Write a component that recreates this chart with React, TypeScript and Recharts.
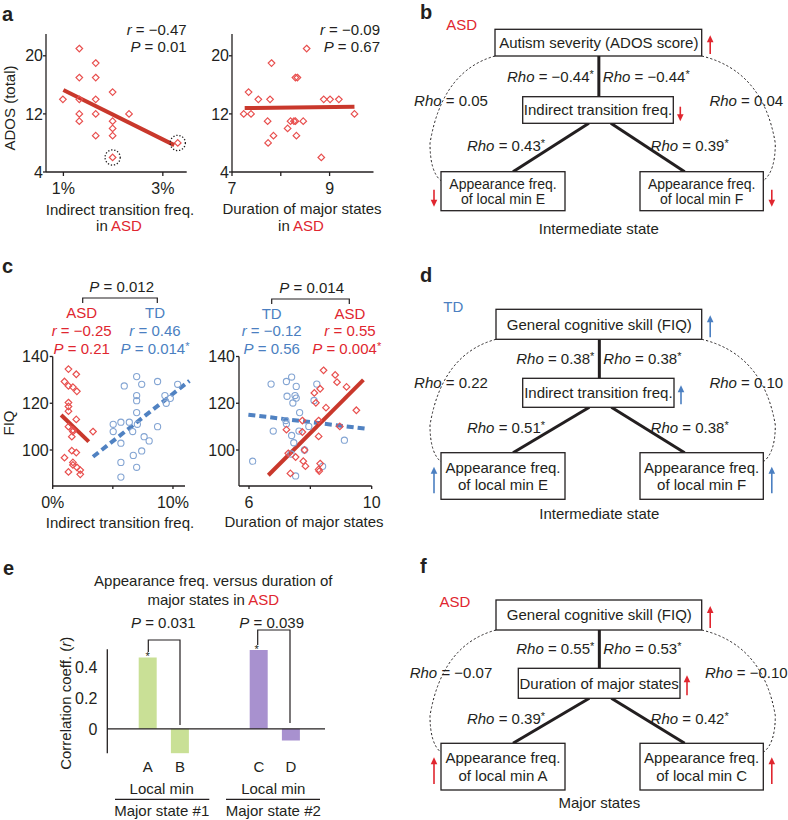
import React from 'react';
import { ScatterChart, Scatter, XAxis, YAxis, ReferenceLine, BarChart, Bar } from 'recharts';

const FONT = '"Liberation Sans", Arial, Helvetica, sans-serif';
const INK = '#231f20';
const RED_PT = '#e8504f';
const RED_LINE = '#c9382c';
const RED_TXT = '#e0262f';
const BLUE_PT = '#84a5d3';
const BLUE_LINE = '#5082c2';
const BLUE_TXT = '#4b7fc1';
const GREEN_BAR = '#c9e096';
const PURPLE_BAR = '#a891cf';

// ---------- data ----------
// panel a (left): indirect transition freq (%) vs ADOS
const adosIndirectASD: number[][] = [
  [1.32, 21], [1.65, 19], [1.32, 17], [1.65, 17], [1.99, 15], [0.99, 14], [1.32, 14], [1.65, 14],
  [1.32, 12], [1.65, 12], [2.32, 12], [1.32, 11], [1.99, 11], [1.99, 10], [1.65, 9], [1.99, 9],
  [1.99, 6], [3.3, 8],
];
const adosIndirectOutliers: number[][] = [[1.99, 6], [3.3, 8]];
const adosIndirectFit: number[][] = [[1.0, 15.3], [3.23, 7.7]];
// panel a (right): duration of major states vs ADOS
const adosDurationASD: number[][] = [
  [8.53, 21], [7.81, 19], [8.3, 17], [8.34, 17], [7.34, 15], [7.54, 14], [7.78, 14], [8.88, 14],
  [9.01, 14], [9.19, 14], [7.24, 12], [7.39, 12], [9.51, 12], [7.73, 11], [8.2, 11], [8.27, 11],
  [8.3, 11], [8.46, 11], [8.14, 10], [7.85, 9], [8.32, 9], [7.74, 8], [8.83, 6],
];
const adosDurationFit: number[][] = [[7.26, 12.8], [9.51, 13.0]];
// panel c (left): indirect transition freq (%) vs FIQ
const fiqIndirectASD: number[][] = [
  [1.31, 134.6], [1.96, 132.4], [0.98, 129.3], [1.31, 127.4], [1.68, 126.9], [2.01, 125.1], [1.31, 120.3],
  [1.31, 118.6], [1.31, 116.6], [1.96, 113.1], [1.31, 110], [1.68, 108.6], [1.68, 107.9], [1.59, 105.7],
  [3.35, 107.9], [1.59, 99.7], [1.96, 98.9], [0.98, 96.7], [1.68, 94.7], [1.68, 93.6], [2.01, 92.6],
  [2.29, 91.4], [1.31, 90.6], [2.29, 89.6],
];
const fiqIndirectTD: number[][] = [
  [6.98, 131.4], [5.95, 127.4], [7.4, 128.1], [8.72, 129.3], [10.39, 128.1], [6.98, 123.3], [6.98, 121.1],
  [9.78, 122.1], [9.33, 123.3], [9.44, 120.0], [6.98, 116.0], [5.03, 111.0], [5.03, 107.9], [5.67, 111.9],
  [6.37, 111.9], [6.65, 107.9], [7.04, 111.0], [7.6, 105.7], [8.02, 103.9], [8.72, 110.0], [5.67, 102.9],
  [7.4, 99.6], [6.7, 97.7], [5.67, 94.7], [6.98, 92.6], [5.67, 88.4],
];
const fiqIndirectFitASD: number[][] = [[0.7, 115], [3.0, 103.6]];
const fiqIndirectFitTD: number[][] = [[3.35, 97.1], [11.37, 129.6]];
// panel c (right): duration of major states vs FIQ
const fiqDurationTD: number[][] = [
  [6.12, 95.2], [6.72, 128.2], [7.22, 129.3], [7.39, 131.2], [7.54, 127.2], [7.24, 123.0], [7.5, 123.3],
  [7.54, 122.2], [7.43, 120.1], [8.21, 128.2], [8.12, 121.2], [7.65, 116.0], [7.2, 112.6], [7.22, 111.2],
  [6.79, 108.1], [7.63, 108.1], [7.95, 110.1], [7.39, 106.2], [7.46, 103.1], [7.81, 100.0], [7.37, 98.3],
  [8.4, 93.0], [7.52, 88.9], [9.11, 104.2],
];
const fiqDurationASD: number[][] = [
  [8.43, 134.1], [8.81, 132.1], [8.87, 129.0], [9.18, 127.0], [8.32, 126.2], [8.13, 124.4], [8.18, 120.2],
  [8.51, 118.1], [9.5, 117.0], [7.74, 112.6], [8.27, 112.6], [7.22, 108.7], [7.74, 107.7], [8.27, 105.8],
  [8.96, 110.1], [7.81, 100.0], [7.52, 97.0], [7.77, 95.2], [7.84, 93.1], [8.32, 94.2], [8.27, 91.7],
  [8.29, 91.0], [7.35, 90.0], [7.28, 98.6],
];
const fiqDurationFitTD: number[][] = [[5.98, 115.1], [9.81, 109.1]];
const fiqDurationFitASD: number[][] = [[6.63, 89.2], [9.73, 130.0]];
// panel e: correlation coefficients
const state1Mins = ['A', 'B'];
const state1R = [0.467, -0.163];
const state2Mins = ['C', 'D'];
const state2R = [0.515, -0.076];

const pts = (a: number[][]) => a.map(([x, y]) => ({ x, y }));
const seg = (a: number[][]) => a.map(([x, y]) => ({ x, y })) as any;

// ---------- shapes ----------
const Diamond = (p: any) => {
  const { cx, cy } = p;
  const r = 3.3;
  return <path d={`M${cx},${cy - r}L${cx + r},${cy}L${cx},${cy + r}L${cx - r},${cy}Z`} fill="none" stroke={RED_PT} strokeWidth={1.2} />;
};
const Ring = (p: any) => <circle cx={p.cx} cy={p.cy} r={3.1} fill="none" stroke={BLUE_PT} strokeWidth={1.1} />;
const DotCircle = (p: any) => <circle cx={p.cx} cy={p.cy} r={7.6} fill="none" stroke={INK} strokeWidth={1.3} strokeDasharray="1.3 1.8" />;

const axisLine = { stroke: INK, strokeWidth: 1.3 };
const tickStyle = { fill: INK, fontSize: 16, fontFamily: FONT };

const abs = (left: number, top: number): React.CSSProperties => ({ position: 'absolute', left, top });

// ---------- overlay helpers ----------
const T = ({ x, y, children, anchor = 'middle', size = 15, fill = INK, weight, rotate }: any) => (
  <text
    x={x}
    y={y}
    dy={size * 0.35}
    textAnchor={anchor}
    fontSize={size}
    fill={fill}
    fontWeight={weight}
    transform={rotate ? `rotate(${rotate} ${x} ${y})` : undefined}
  >
    {children}
  </text>
);
const I = ({ children }: any) => <tspan fontStyle="italic">{children}</tspan>;
const Star = () => <tspan fontSize={11} dy={-4}>*</tspan>;

const Arrow = ({ x, y0, y1, color }: any) => {
  const dir = y1 < y0 ? -1 : 1;
  return (
    <g>
      <line x1={x} y1={y0} x2={x} y2={y1 - dir * 5} stroke={color} strokeWidth={1.6} />
      <path d={`M${x - 3.3},${y1 - dir * 7}L${x + 3.3},${y1 - dir * 7}L${x},${y1}Z`} fill={color} />
    </g>
  );
};

type Box = [number, number, number, number];
const Rect = ({ b }: { b: Box }) => (
  <rect x={b[0]} y={b[1]} width={b[2] - b[0]} height={b[3] - b[1]} fill="white" stroke={INK} strokeWidth={1.3} />
);

const Diagram = ({ g }: any) => {
  const top: Box = g.top, mid: Box = g.mid, bl: Box = g.bl, br: Box = g.br;
  const cx = (top[0] + top[2]) / 2 + 0.5;
  const y0 = top[3];
  const y1 = bl[1] + 9;
  const H = y1 - y0;
  const bx = bl[0] - 11;
  const bxr = br[2] + 12;
  const left = `M${top[0]},${y0} Q${bx + 12},${y0 + 0.12 * H} ${bx},${y0 + 0.7 * H} Q${bx},${y0 + 0.93 * H} ${bl[0]},${y1}`;
  const right = `M${top[2]},${y0} Q${bxr - 12},${y0 + 0.12 * H} ${bxr},${y0 + 0.7 * H} Q${bxr},${y0 + 0.93 * H} ${br[2]},${y1}`;
  const midY = (top[3] + mid[1]) / 2;
  const bh = bl[3] - bl[1];
  const blc = (bl[0] + bl[2]) / 2;
  const brc = (br[0] + br[2]) / 2;
  const sideY = mid[1] + 4;
  const diagY = (mid[3] + bl[1]) / 2 - 2;
  const bs = g.boxSize;
  const l1 = bl[1] + bh / 2 - g.lineGap / 2;
  const l2 = bl[1] + bh / 2 + g.lineGap / 2;
  return (
    <g>
      <path d={left} fill="none" stroke={INK} strokeWidth={1} strokeDasharray="2.2 2.2" />
      <path d={right} fill="none" stroke={INK} strokeWidth={1} strokeDasharray="2.2 2.2" />
      <line x1={cx} y1={top[3]} x2={cx} y2={mid[1]} stroke={INK} strokeWidth={3} />
      <line x1={cx - 10} y1={mid[3]} x2={blc + 10} y2={bl[1]} stroke={INK} strokeWidth={3} />
      <line x1={cx + 12} y1={mid[3]} x2={brc - 17} y2={br[1]} stroke={INK} strokeWidth={3} />
      <Rect b={top} />
      <Rect b={mid} />
      <Rect b={bl} />
      <Rect b={br} />
      <T x={g.groupPos[0]} y={g.groupPos[1]} fill={g.color}>{g.group}</T>
      <T x={cx} y={(top[1] + top[3]) / 2}>{g.topText}</T>
      <T x={(mid[0] + mid[2]) / 2} y={(mid[1] + mid[3]) / 2}>{g.midText}</T>
      <T x={blc} y={l1} size={bs}>Appearance freq.</T>
      <T x={blc} y={l2} size={bs}>{g.blText}</T>
      <T x={brc} y={l1} size={bs}>Appearance freq.</T>
      <T x={brc} y={l2} size={bs}>{g.brText}</T>
      <T x={cx} y={bl[3] + g.capDy}>{g.caption}</T>
      <T x={cx - 5} y={midY} anchor="end"><I>Rho</I> = {g.rhoCL}<Star /></T>
      <T x={cx + 4} y={midY} anchor="start"><I>Rho</I> = {g.rhoCR}<Star /></T>
      <T x={bl[0] + 10} y={sideY}><I>Rho</I> = {g.rhoSL}</T>
      <T x={br[2] - 17} y={sideY}><I>Rho</I> = {g.rhoSR}</T>
      <T x={blc + 3} y={diagY}><I>Rho</I> = {g.rhoDL}<Star /></T>
      <T x={brc - 12} y={diagY}><I>Rho</I> = {g.rhoDR}<Star /></T>
      <Arrow x={top[2] + 8.5} y0={g.dirTop < 0 ? top[3] - 2 : top[1] + 6} y1={g.dirTop < 0 ? top[1] + 6 : top[3] - 2} color={g.color} />
      <Arrow x={mid[2] + 7} y0={g.dirMid < 0 ? mid[3] - 3 : mid[1] + 10} y1={g.dirMid < 0 ? mid[1] + 7 : mid[3] - 2} color={g.color} />
      <Arrow x={bl[0] - 7} y0={g.dirBot < 0 ? bl[3] - 6 : bl[1] + 18} y1={g.dirBot < 0 ? bl[1] + 14 : bl[3] - 4} color={g.color} />
      <Arrow x={br[2] + 8.5} y0={g.dirBot < 0 ? br[3] - 6 : br[1] + 18} y1={g.dirBot < 0 ? br[1] + 14 : br[3] - 4} color={g.color} />
    </g>
  );
};

const diagB = {
  top: [495, 29.3, 701.7, 56], mid: [522.7, 96.7, 673.3, 123.3], bl: [441, 171.7, 565, 210.7], br: [640, 171.7, 763.3, 210.7],
  color: RED_TXT, group: 'ASD', groupPos: [461.7, 25], topText: 'Autism severity (ADOS score)', midText: 'Indirect transition freq.',
  blText: 'of local min E', brText: 'of local min F', caption: 'Intermediate state', capDy: 17.6, boxSize: 14, lineGap: 15,
  rhoCL: '\u22120.44', rhoCR: '\u22120.44', rhoSL: '0.05', rhoSR: '0.04', rhoDL: '0.43', rhoDR: '0.39',
  dirTop: -1, dirMid: 1, dirBot: 1,
};
const diagD = {
  top: [496, 309.3, 701.7, 339.3], mid: [522.7, 378.3, 674, 407.3], bl: [441, 452.7, 565, 499.3], br: [640, 452.7, 763.3, 499.3],
  color: BLUE_TXT, group: 'TD', groupPos: [453.3, 306.7], topText: 'General cognitive skill (FIQ)', midText: 'Indirect transition freq.',
  blText: 'of local min E', brText: 'of local min F', caption: 'Intermediate state', capDy: 14, boxSize: 15, lineGap: 17.4,
  rhoCL: '0.38', rhoCR: '0.38', rhoSL: '0.22', rhoSR: '0.10', rhoDL: '0.51', rhoDR: '0.38',
  dirTop: -1, dirMid: -1, dirBot: -1,
};
const diagF = {
  top: [496, 600, 701.7, 630], mid: [518.3, 668.3, 680, 698.3], bl: [441, 743.3, 565, 790], br: [640, 743.3, 763.3, 790],
  color: RED_TXT, group: 'ASD', groupPos: [455, 601.7], topText: 'General cognitive skill (FIQ)', midText: 'Duration of major states',
  blText: 'of local min A', brText: 'of local min C', caption: 'Major states', capDy: 12.3, boxSize: 15, lineGap: 18,
  rhoCL: '0.55', rhoCR: '0.53', rhoSL: '\u22120.07', rhoSR: '\u22120.10', rhoDL: '0.39', rhoDR: '0.42',
  dirTop: -1, dirMid: -1, dirBot: -1,
};

const Stat = ({ x, y, anchor = 'middle', fill = INK, letter, rest }: any) => (
  <T x={x} y={y} anchor={anchor} fill={fill}><I>{letter}</I>{rest}</T>
);

export default function App() {
  const fiqX = { type: 'number' as const, dataKey: 'x', height: 40, axisLine, tickLine: axisLine, tickSize: 3, tickMargin: 8, tick: tickStyle, allowDataOverflow: true };
  const fiqY = { type: 'number' as const, dataKey: 'y', domain: [84.6, 140] as any, ticks: [100, 120, 140], axisLine, tickLine: axisLine, tickSize: 3, tickMargin: 1, tick: tickStyle, allowDataOverflow: true };
  const adosY = { type: 'number' as const, dataKey: 'y', domain: [4, 23] as any, ticks: [4, 12, 20], axisLine, tickLine: axisLine, tickSize: 3, tickMargin: 0, tick: tickStyle, allowDataOverflow: true };
  const bar1 = state1Mins.map((name, i) => ({ name, r: state1R[i] }));
  const bar2 = state2Mins.map((name, i) => ({ name, r: state2R[i] }));
  return (
    <div style={{ position: 'absolute', left: 0, top: 0, width: 788, height: 820, background: 'white', fontFamily: FONT, overflow: 'hidden' }}>
      {/* panel a left */}
      <div style={abs(0, 0)}>
        <ScatterChart width={200} height={245} margin={{ top: 34, right: 13.3, bottom: 0, left: 0 }}>
          <XAxis type="number" dataKey="x" domain={[0.65, 3.48]} ticks={[1, 3]} tickFormatter={(v: any) => `${v}%`} height={73} axisLine={axisLine} tickLine={axisLine} tickSize={4} tickMargin={7} tick={tickStyle} allowDataOverflow />
          <YAxis {...adosY} width={46} />
          <Scatter data={pts(adosIndirectASD)} shape={Diamond} isAnimationActive={false} />
          <Scatter data={pts(adosIndirectOutliers)} shape={DotCircle} isAnimationActive={false} />
          <ReferenceLine segment={seg(adosIndirectFit)} stroke={RED_LINE} strokeWidth={4} />
        </ScatterChart>
      </div>
      {/* panel a right */}
      <div style={abs(190, 0)}>
        <ScatterChart width={190} height={245} margin={{ top: 34, right: 6.5, bottom: 0, left: 0 }}>
          <XAxis type="number" dataKey="x" domain={[7, 9.9]} ticks={[7, 8, 9]} tickFormatter={(v: any) => (v === 8 ? '' : `${v}`)} height={73} axisLine={axisLine} tickLine={axisLine} tickSize={4} tickMargin={7} tick={tickStyle} allowDataOverflow />
          <YAxis {...adosY} width={42} />
          <Scatter data={pts(adosDurationASD)} shape={Diamond} isAnimationActive={false} />
          <ReferenceLine segment={seg(adosDurationFit)} stroke={RED_LINE} strokeWidth={4} />
        </ScatterChart>
      </div>
      {/* panel c left */}
      <div style={abs(0, 300)}>
        <ScatterChart width={200} height={226} margin={{ top: 56.5, right: 15, bottom: 0, left: 0 }}>
          <XAxis {...fiqX} domain={[0, 11]} ticks={[0, 5, 10]} tickFormatter={(v: any) => (v === 5 ? '' : `${v}%`)} />
          <YAxis {...fiqY} width={52.7} />
          <Scatter data={pts(fiqIndirectASD)} shape={Diamond} isAnimationActive={false} />
          <Scatter data={pts(fiqIndirectTD)} shape={Ring} isAnimationActive={false} />
          <ReferenceLine segment={seg(fiqIndirectFitASD)} stroke={RED_LINE} strokeWidth={4} />
          <ReferenceLine segment={seg(fiqIndirectFitTD)} stroke={BLUE_LINE} strokeWidth={4} strokeDasharray="7 4" ifOverflow="visible" />
        </ScatterChart>
      </div>
      {/* panel c right */}
      <div style={abs(190, 300)}>
        <ScatterChart width={200} height={226} margin={{ top: 56.5, right: 18.3, bottom: 0, left: 0 }}>
          <XAxis {...fiqX} domain={[5.674, 10]} ticks={[6, 8, 10]} tickFormatter={(v: any) => (v === 8 ? '' : `${v}`)} />
          <YAxis {...fiqY} width={49} />
          <Scatter data={pts(fiqDurationTD)} shape={Ring} isAnimationActive={false} />
          <Scatter data={pts(fiqDurationASD)} shape={Diamond} isAnimationActive={false} />
          <ReferenceLine segment={seg(fiqDurationFitTD)} stroke={BLUE_LINE} strokeWidth={4} strokeDasharray="7 4" />
          <ReferenceLine segment={seg(fiqDurationFitASD)} stroke={RED_LINE} strokeWidth={4} />
        </ScatterChart>
      </div>
      {/* panel e */}
      <div style={abs(0, 560)}>
        <BarChart width={214} height={230} data={bar1} margin={{ top: 89.3, right: 0, bottom: 0, left: 0 }}>
          <XAxis dataKey="name" type="category" padding={{ left: 24.4, right: 17.9 }} axisLine={false} tickLine={false} tickSize={4} tickMargin={4} tick={{ ...tickStyle, fontSize: 15 }} height={36.7} />
          <YAxis type="number" domain={[-0.16, 0.52]} ticks={[0, 0.2, 0.4]} width={107.3} tickLine={false} tickSize={4} tickMargin={6} axisLine={axisLine} tick={tickStyle} allowDataOverflow tickFormatter={(v: any) => (v === 0 ? '0' : `${v}`)} />
          <ReferenceLine y={0} stroke={INK} strokeWidth={1.3} />
          <Bar dataKey="r" barSize={18} fill={GREEN_BAR} isAnimationActive={false} />
        </BarChart>
      </div>
      <div style={abs(214, 560)}>
        <BarChart width={125} height={230} data={bar2} margin={{ top: 89.3, right: 14, bottom: 0, left: 0 }}>
          <XAxis dataKey="name" type="category" padding={{ left: 28.7, right: 17.9 }} axisLine={false} tickLine={false} tickSize={4} tickMargin={4} tick={{ ...tickStyle, fontSize: 15 }} height={36.7} />
          <YAxis type="number" hide domain={[-0.16, 0.52]} allowDataOverflow />
          <ReferenceLine y={0} stroke={INK} strokeWidth={1.3} />
          <Bar dataKey="r" barSize={18} fill={PURPLE_BAR} isAnimationActive={false} />
        </BarChart>
      </div>

      {/* overlay annotations */}
      <svg width={788} height={820} style={{ position: 'absolute', left: 0, top: 0, pointerEvents: 'none' }} fontFamily={FONT}>
        {/* panel letters */}
        <T x={2} y={14} anchor="start" size={20} weight="bold">a</T>
        <T x={2} y={266} anchor="start" size={20} weight="bold">c</T>
        <T x={3} y={568} anchor="start" size={20} weight="bold">e</T>
        <T x={420} y={12} anchor="start" size={20} weight="bold">b</T>
        <T x={420} y={275} anchor="start" size={20} weight="bold">d</T>
        <T x={420} y={566} anchor="start" size={20} weight="bold">f</T>

        {/* panel a */}
        <Stat x={186.7} y={29.3} anchor="end" letter="r" rest={' = \u22120.47'} />
        <Stat x={186.7} y={46.7} anchor="end" letter="P" rest=" = 0.01" />
        <Stat x={380} y={29.3} anchor="end" letter="r" rest={' = \u22120.09'} />
        <Stat x={380} y={46.7} anchor="end" letter="P" rest=" = 0.67" />
        <T x={10} y={108} rotate={-90}>ADOS (total)</T>
        <T x={120} y={210}>Indirect transition freq.</T>
        <T x={119} y={226}>in <tspan fill={RED_TXT}>ASD</tspan></T>
        <T x={302} y={208.5}>Duration of major states</T>
        <T x={301} y={226}>in <tspan fill={RED_TXT}>ASD</tspan></T>

        {/* panel c */}
        <Stat x={121.7} y={286.7} letter="P" rest=" = 0.012" />
        <path d="M82.7,303 V298 H157.3 V303" fill="none" stroke={INK} strokeWidth={1.2} />
        <T x={81.7} y={312.7} fill={RED_TXT}>ASD</T>
        <Stat x={81.7} y={331} fill={RED_TXT} letter="r" rest={' = \u22120.25'} />
        <Stat x={81.7} y={348.7} fill={RED_TXT} letter="P" rest=" = 0.21" />
        <T x={155} y={312.7} fill={BLUE_TXT}>TD</T>
        <Stat x={155} y={331} fill={BLUE_TXT} letter="r" rest=" = 0.46" />
        <T x={155} y={348.7} fill={BLUE_TXT}><I>P</I> = 0.014<Star /></T>
        <T x={9} y={423} rotate={-90}>FIQ</T>
        <T x={120} y={523}>Indirect transition freq.</T>

        <Stat x={311.7} y={287.3} letter="P" rest=" = 0.014" />
        <path d="M271.7,304 V299 H349.3 V304" fill="none" stroke={INK} strokeWidth={1.2} />
        <T x={271.7} y={313.3} fill={BLUE_TXT}>TD</T>
        <Stat x={271.7} y={331} fill={BLUE_TXT} letter="r" rest={' = \u22120.12'} />
        <Stat x={271.7} y={349} fill={BLUE_TXT} letter="P" rest=" = 0.56" />
        <T x={350} y={313.3} fill={RED_TXT}>ASD</T>
        <Stat x={350} y={331} fill={RED_TXT} letter="r" rest=" = 0.55" />
        <T x={346.7} y={349} fill={RED_TXT}><I>P</I> = 0.004<Star /></T>
        <T x={304} y={521.7}>Duration of major states</T>

        {/* panel e */}
        <T x={213.3} y={580.7}>Appearance freq. versus duration of</T>
        <T x={213.3} y={599.3}>major states in <tspan fill={RED_TXT}>ASD</tspan></T>
        <Stat x={163.3} y={622.7} letter="P" rest=" = 0.031" />
        <Stat x={271.7} y={622.7} letter="P" rest=" = 0.039" />
        <path d="M148.3,652 V640 H180 V725" fill="none" stroke={INK} strokeWidth={1.2} />
        <path d="M257.7,645 V630 H290 V723" fill="none" stroke={INK} strokeWidth={1.2} />
        <T x={147.7} y={656.5} size={11}>*</T>
        <T x={256.7} y={649} size={11}>*</T>
        <T x={66} y={703.3} rotate={-90}>Correlation coeff. (<I>r</I>)</T>
        <T x={161.7} y={788.3}>Local min</T>
        <T x={273.3} y={788.3}>Local min</T>
        <line x1={115} y1={799.3} x2={209.3} y2={799.3} stroke={INK} strokeWidth={1.2} />
        <line x1={226} y1={799.3} x2={320} y2={799.3} stroke={INK} strokeWidth={1.2} />
        <T x={161.7} y={810.7}>Major state #1</T>
        <T x={273.3} y={810.7}>Major state #2</T>

        {/* diagrams */}
        <Diagram g={diagB} />
        <Diagram g={diagD} />
        <Diagram g={diagF} />
      </svg>
    </div>
  );
}
